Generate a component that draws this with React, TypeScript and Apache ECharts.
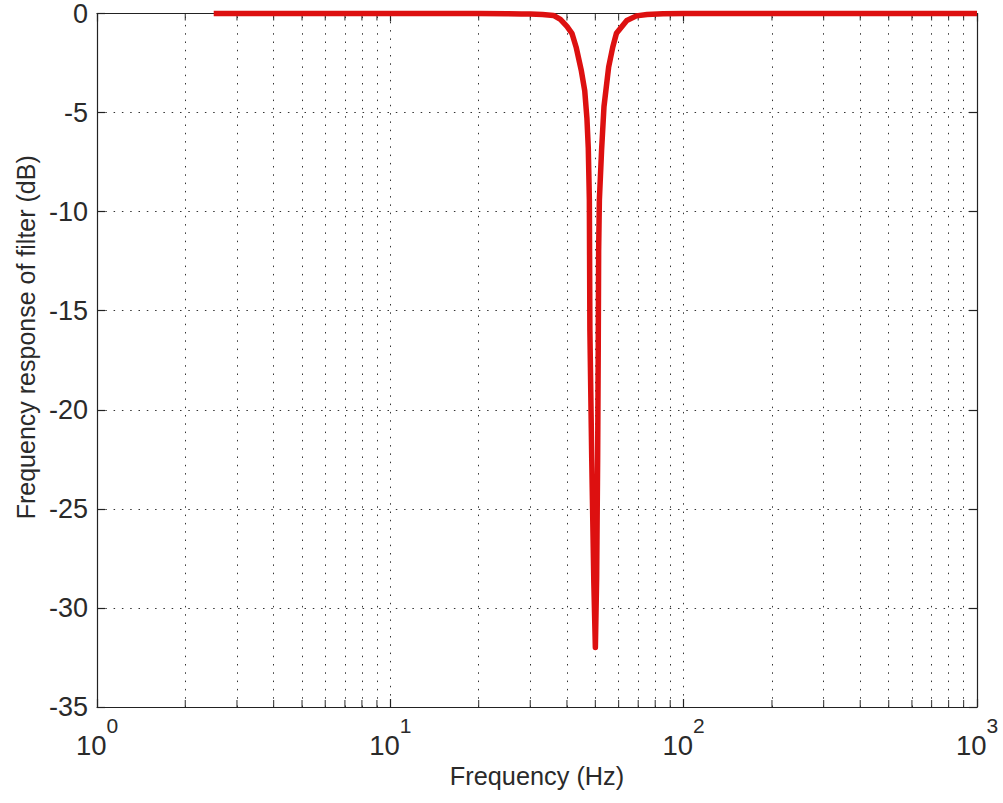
import React, { useEffect, useRef } from 'react';
import * as echarts from 'echarts';

// Frequency response of a 50 Hz notch filter
const frequencyHz = [2.5, 5, 10, 15, 20, 25, 28, 30, 33, 36, 38, 40, 41.6, 43, 44.8, 46, 46.8, 47.3, 47.7, 47.9, 48.6, 49.4, 50, 50.5, 50.9, 51.15, 51.3, 51.6, 52.5, 53.5, 55.5, 57.3, 59, 64, 69, 75, 85, 100, 200, 500, 1000];
const responseDb = [0, 0, 0, 0, 0, -0.01, -0.02, -0.03, -0.05, -0.1, -0.3, -0.65, -1.0, -1.7, -2.9, -3.9, -5.3, -6.8, -9.4, -16, -22.5, -28.7, -32, -28.5, -22.5, -16.7, -12, -9.4, -6.9, -4.7, -2.7, -1.7, -1.0, -0.35, -0.12, -0.05, -0.01, 0, 0, 0, 0];

const minorFreqs = [2, 3, 4, 5, 6, 7, 8, 9, 20, 30, 40, 50, 60, 70, 80, 90, 200, 300, 400, 500, 600, 700, 800, 900];
const xMin = 1;
const xMax = 1000;
const yMin = -35;
const yMax = 0;
const yInterval = 5;

const xTitle = 'Frequency (Hz)';
const yTitle = 'Frequency response of filter (dB)';

const FONT = '"Liberation Sans", Arial, Helvetica, sans-serif';
const TEXT = '#2a2a2a';
const dotted = { type: [1.5, 6.8], color: '#333', width: 1 };

export default function App() {
  const ref = useRef<HTMLDivElement>(null);
  useEffect(() => {
    if (!ref.current) return;
    const chart = echarts.init(ref.current, undefined, { renderer: 'svg' });
    const lineData = frequencyHz.map((f, i) => [f, responseDb[i]]);
    const option: any = {
      animation: false,
      backgroundColor: '#fff',
      textStyle: { fontFamily: FONT },
      grid: { left: 97, right: 26, top: 13, bottom: 96, containLabel: false },
      xAxis: [
        {
          type: 'log',
          logBase: 10,
          min: xMin,
          max: xMax,
          name: xTitle,
          nameLocation: 'middle',
          nameGap: 53,
          nameTextStyle: { fontSize: 25.3, color: TEXT, fontFamily: FONT },
          axisLine: { show: true, onZero: false, lineStyle: { color: '#222', width: 1.2 } },
          axisTick: { show: true, inside: true, length: 8, lineStyle: { color: '#222', width: 1.2 } },
          splitLine: { show: true, lineStyle: dotted },
          axisLabel: {
            margin: 8,
            color: TEXT,
            formatter: (v: number) => `{b|10}{s|${Math.round(Math.log10(v))}}`,
            rich: {
              b: { fontSize: 27.5, fontFamily: FONT, color: TEXT, lineHeight: 44, verticalAlign: 'bottom' },
              s: { fontSize: 21, fontFamily: FONT, color: TEXT, lineHeight: 44, verticalAlign: 'top' },
            },
          },
        },
        {
          type: 'log',
          logBase: 10,
          min: xMin,
          max: xMax,
          position: 'top',
          axisLine: { show: true, onZero: false, lineStyle: { color: '#222', width: 1.2 } },
          axisTick: { show: true, inside: true, length: 8, lineStyle: { color: '#222', width: 1.2 } },
          axisLabel: { show: false },
          splitLine: { show: false },
        },
      ],
      yAxis: [
        {
          type: 'value',
          min: yMin,
          max: yMax,
          interval: yInterval,
          name: yTitle,
          nameLocation: 'middle',
          nameGap: 56,
          nameTextStyle: { fontSize: 25, color: TEXT, fontFamily: FONT, padding: [0, 0, 0, 46] },
          axisLine: { show: true, onZero: false, lineStyle: { color: '#222', width: 1.2 } },
          axisTick: { show: true, inside: true, length: 8, lineStyle: { color: '#222', width: 1.2 } },
          splitLine: { show: true, lineStyle: dotted },
          axisLabel: { margin: 9, fontSize: 27, color: TEXT, fontFamily: FONT },
        },
        {
          type: 'value',
          min: yMin,
          max: yMax,
          interval: yInterval,
          position: 'right',
          axisLine: { show: true, onZero: false, lineStyle: { color: '#222', width: 1.2 } },
          axisTick: { show: true, inside: true, length: 8, lineStyle: { color: '#222', width: 1.2 } },
          axisLabel: { show: false },
          splitLine: { show: false },
        },
      ],
      series: [
        {
          type: 'scatter',
          name: 'minorBottom',
          xAxisIndex: 0,
          yAxisIndex: 0,
          silent: true,
          z: 1,
          symbol: 'rect',
          symbolSize: [1.2, 7],
          symbolOffset: [0, -3.5],
          itemStyle: { color: '#222' },
          data: minorFreqs.map((f) => [f, yMin]),
          markLine: {
            silent: true,
            symbol: 'none',
            label: { show: false },
            lineStyle: dotted,
            data: minorFreqs.map((f) => ({ xAxis: f })),
          },
        },
        {
          type: 'scatter',
          name: 'minorTop',
          xAxisIndex: 0,
          yAxisIndex: 0,
          silent: true,
          z: 1,
          symbol: 'rect',
          symbolSize: [1.2, 7],
          symbolOffset: [0, 3.5],
          itemStyle: { color: '#222' },
          data: minorFreqs.map((f) => [f, yMax]),
        },
        {
          type: 'line',
          name: 'response',
          xAxisIndex: 0,
          yAxisIndex: 0,
          z: 5,
          clip: false,
          symbol: 'none',
          smooth: false,
          lineStyle: { color: '#dd1010', width: 5.5, join: 'round', cap: 'butt' },
          data: lineData,
        },
      ],
    };
    chart.setOption(option);
    return () => chart.dispose();
  }, []);
  return (
    <div
      ref={ref}
      style={{ position: 'fixed', left: 0, top: 0, width: 1003, height: 803, background: '#fff' }}
    />
  );
}
